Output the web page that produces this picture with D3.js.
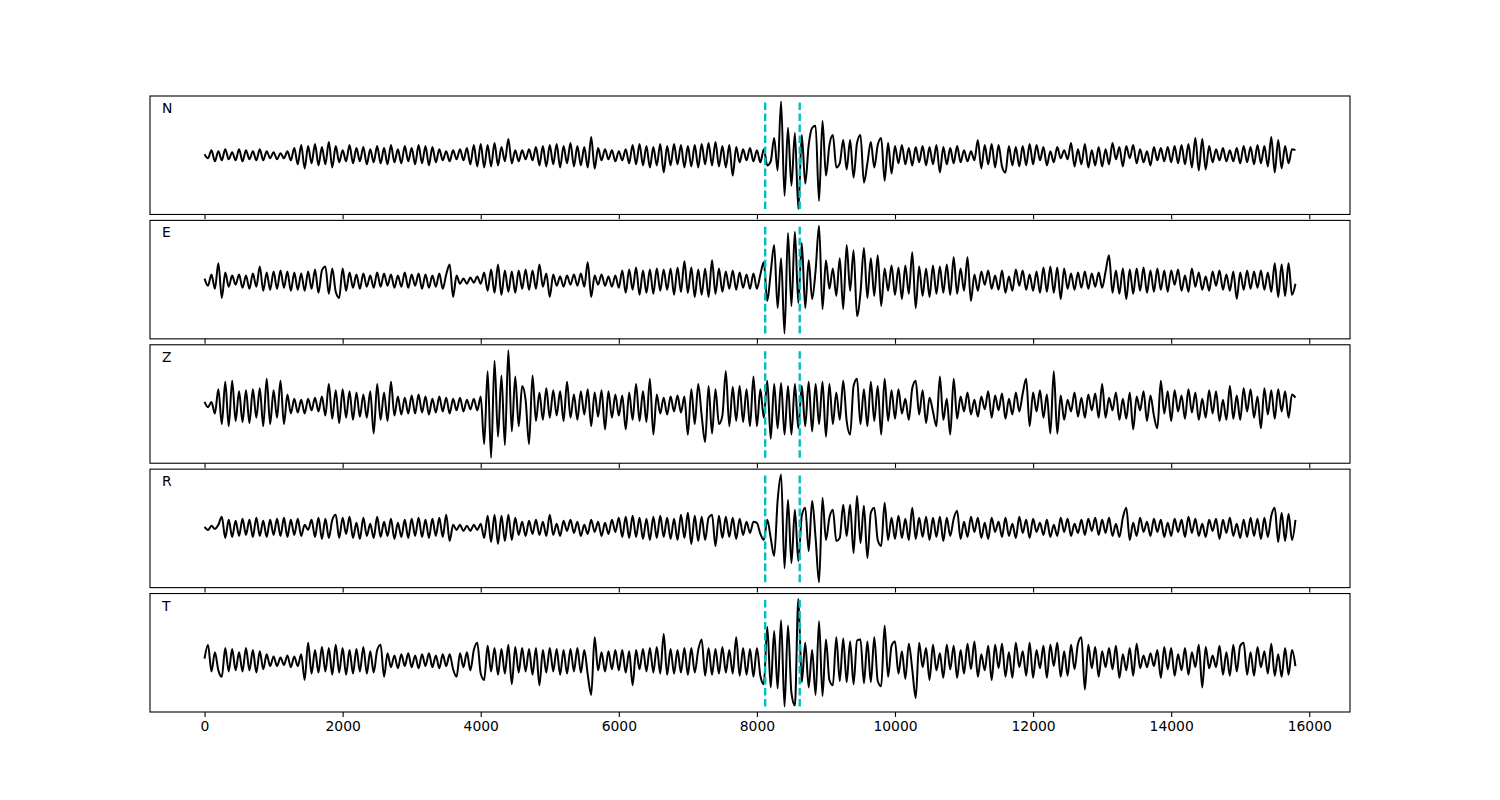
<!DOCTYPE html>
<html><head><meta charset="utf-8">
<script src="https://cdn.jsdelivr.net/npm/d3@7"></script>
<style>body{margin:0;background:#fff}svg{display:block}</style>
</head><body>
<svg id="chart" width="1500" height="800"></svg>
<script>
// ---------- data ----------
const sampleStep = 50; // samples between listed values
const componentNames = ["N", "E", "Z", "R", "T"];
const pickTimes = [8120, 8620];
const xTickValues = [0, 2000, 4000, 6000, 8000, 10000, 12000, 14000, 16000];

const traceN = [
1,-3,5,-6,4,-5,6,-4,3,-5,6,-6,5,-4,4,-5,6,-5,4,-3,
3,-4,2,-3,4,-5,7,-9,10,-13,9,-8,11,-10,8,-9,13,-12,9,-7,
5,-6,10,-8,7,-6,8,-9,6,-7,9,-8,7,-9,10,-7,6,-8,9,-6,
7,-9,10,-8,9,-10,8,-7,6,-5,4,-6,5,-4,6,-5,7,-9,10,-11,
11,-12,10,-11,12,-10,8,-6,16,-8,5,-6,5,-4,6,-5,8,-10,9,-11,
10,-9,11,-12,9,-8,12,-11,9,-10,8,-12,18,-13,7,-5,6,-4,5,-6,
4,-5,6,-8,10,-9,11,-10,9,-12,8,-10,11,-17,9,-10,11,-9,10,-12,
9,-11,10,-12,11,-9,12,-10,13,-11,9,-12,10,-20,8,-7,6,-5,7,-6,
5,-7,6,-10,-6,17,-15,53,-40,27,-30,22,-53,20,-28,10,27,29,-45,34,
-20,10,20,-12,-8,15,-14,15,-22,12,20,-27,-8,13,-12,10,17,-25,12,-18,
9,-8,10,-9,7,-10,8,-7,9,-10,8,-9,10,-17,8,-9,7,-8,9,-7,
5,-6,4,-5,15,-13,10,-9,11,-12,10,-11,-17,9,-10,8,-11,9,-10,11,
-9,10,-5,8,-10,4,-7,8,-3,5,-4,12,-11,6,-9,11,-12,5,-10,8,
-11,6,-9,12,-4,8,-11,9,-3,10,-8,6,-7,4,-10,8,-5,7,-6,8,
-7,9,-8,10,-9,11,-12,17,-15,16,-14,9,-7,6,-5,7,-6,5,-6,7,
-8,9,-7,8,-9,10,-8,9,-11,18,-17,15,-13,9,-8,6,5];

const traceE = [
2,-5,6,-8,17,-17,8,-6,5,-4,6,-7,5,-8,7,-6,14,-10,8,-9,
9,-8,10,-7,9,-10,8,-9,7,-10,9,-8,11,-12,10,14,-13,12,-11,-17,
12,-10,8,-7,6,-8,7,-6,5,-7,8,-6,7,-5,6,-7,5,-6,8,-7,
6,-5,7,-8,6,-7,5,-6,7,-8,6,16,-16,5,-3,2,-3,3,-2,4,
-3,8,-10,11,-12,16,-14,10,-11,9,-12,10,-8,11,-9,10,-8,16,-6,7,
-16,6,-5,4,-6,5,-4,6,-5,7,-6,18,-16,5,-4,6,-5,4,-6,5,
-7,10,-12,11,-9,13,-14,10,-12,11,-13,12,-10,11,-9,12,-14,13,-11,19,
-12,13,-16,11,-14,12,-16,20,-13,12,-11,9,-8,10,-9,8,-7,6,-8,7,
-8,6,18,-20,8,35,-27,22,-52,47,-25,48,-22,37,-27,20,-18,10,54,-28,
20,-8,12,-15,22,-28,35,-10,30,-35,-12,32,-17,22,-15,25,-25,12,-10,15,
-14,13,-18,15,-13,28,-27,14,-15,12,-16,15,-13,14,-12,16,-14,23,-13,12,
-10,23,-20,6,-10,9,-4,10,-8,5,-9,10,-12,4,-10,11,-5,10,-9,6,
-10,9,-12,13,-11,14,-12,13,-18,12,-8,7,-9,8,-7,9,-8,7,-6,8,
-7,9,25,-12,10,-13,12,-18,11,-13,12,-10,13,-12,10,-11,12,-9,10,-11,
10,-4,11,-10,5,-11,12,-6,8,-9,4,-10,9,-5,10,-9,6,-10,9,-18,
8,-9,10,-8,9,-7,10,-9,8,-11,17,-16,16,-15,17,-14,-3];

const traceZ = [
3,-2,3,-8,15,-18,22,-20,23,-15,13,-16,14,-17,15,-12,16,-20,25,-18,
14,-12,23,-18,10,-8,6,-7,5,-8,6,-5,7,-6,8,-10,20,-13,14,-17,
15,-12,13,-14,12,-11,10,-12,13,-27,20,-14,12,-15,22,-10,8,-9,7,-8,
9,-8,10,-7,8,-9,6,-7,8,-6,7,-8,6,-5,7,-6,5,-4,6,-5,
8,-37,32,-50,42,-30,28,-38,52,-25,27,-20,18,5,-37,28,-15,12,-14,16,
-12,14,-10,13,-15,22,-12,10,-14,13,-9,15,-20,12,-11,14,-23,13,-12,10,
-10,9,-23,12,-14,20,-15,13,-16,25,-28,10,-8,7,-9,8,-6,9,-7,8,
-28,15,-18,20,-10,-35,18,-27,15,-18,-10,32,-20,17,-15,18,-16,15,-20,27,
-20,15,-12,23,-32,20,-22,21,-28,18,-28,20,-22,18,-20,22,-25,20,-18,22,
-30,20,-18,12,-14,23,-15,-28,18,25,-18,15,-20,22,-15,18,-28,25,-15,14,
-13,15,-8,6,-14,16,23,-9,14,-17,7,-6,-20,27,-14,6,-28,25,-13,8,
-6,12,-9,5,-11,8,-4,13,-12,9,-5,11,-13,6,-9,12,-6,11,25,-20,
12,-6,14,-12,10,-27,32,-27,9,-14,5,-6,12,-11,7,-12,10,-5,11,-12,
20,-12,7,-5,12,-14,6,-13,12,-23,8,-5,13,-15,9,-10,-22,23,-8,13,
-15,14,-6,9,-13,15,-7,12,-14,6,-12,14,-8,13,-15,5,-14,18,-13,9,
-14,16,-6,15,-12,8,-22,16,-9,14,-13,15,-6,13,-12,10,7];

const traceR = [
1,-2,2,-1,3,11,-10,8,-9,7,-8,9,-7,8,-9,10,-8,7,-9,8,
-7,9,-8,10,-9,8,-7,9,-8,3,-2,8,-9,10,-11,9,-10,8,13,-10,
10,-6,11,-10,5,-11,10,-8,4,-10,11,-9,6,-8,9,-11,5,-9,8,-10,
9,-8,10,-9,8,-10,9,-8,10,-9,13,-13,3,-2,3,-3,2,-3,3,-2,
4,-10,12,-14,13,-16,12,-13,13,-12,10,-7,6,-8,7,-6,8,-7,6,-8,
13,-7,4,-8,7,-3,8,-5,6,-8,3,-6,8,-4,6,-8,5,-6,8,-4,
10,-9,11,-10,12,-9,10,-11,9,-12,11,-10,12,-9,10,-11,9,-12,13,-10,
15,-16,12,-13,11,-12,10,13,-18,12,-10,11,-9,10,-11,9,-7,6,-5,6,
5,-6,-12,8,-10,-28,27,53,-40,28,-35,18,-33,12,20,-23,27,-10,-54,30,
-12,10,18,-13,-10,23,-8,23,-25,32,-15,22,-30,15,20,-12,-18,25,-12,10,
-11,12,-10,9,-12,20,-11,10,-9,11,-12,10,-9,11,-13,10,-8,9,17,-11,
6,-9,11,-4,10,-10,5,-11,10,-4,6,-9,10,-8,4,-10,11,-5,8,-10,
9,-4,5,-7,8,-9,3,-8,10,-4,9,-8,4,-5,8,-7,9,-3,10,-7,
8,-5,10,-8,4,-9,10,20,-12,5,-8,10,-4,6,-8,9,-4,8,-9,5,
-8,9,-4,8,-9,11,-5,9,-8,4,-9,8,-3,9,-11,8,-5,10,-8,4,
-10,8,-9,10,-8,9,-11,10,-9,12,20,-14,15,-13,14,-12,8];

const traceT = [
2,15,-10,8,-9,-15,12,-10,11,-9,8,-10,12,-9,10,-11,9,-8,6,-5,
4,-5,3,-4,5,-6,4,-5,6,-18,17,-12,10,-11,13,-10,12,-13,15,-11,
12,-13,10,-12,11,-10,13,-12,9,-11,10,15,-15,7,-6,5,-7,6,-5,7,
-6,5,-7,6,-5,7,-6,5,-7,6,-5,6,-8,-15,7,-6,8,-9,10,17,
-12,-18,14,-10,12,-13,11,-12,15,-22,13,-11,12,-10,11,-13,12,-23,10,-11,
12,-10,11,-13,10,-12,11,-10,12,-11,10,-13,-32,22,-9,8,-10,9,-8,10,
-9,10,-11,9,-23,10,-8,11,-10,12,-11,13,-12,25,-13,11,-12,10,-11,12,
-13,12,-11,10,20,-14,12,-13,11,-12,13,-11,10,-12,22,-14,12,-13,11,-15,
12,-14,-22,32,-25,28,-26,38,-43,33,-30,-42,58,-20,17,-25,10,-32,37,-33,
20,-18,-23,22,-19,21,-20,18,-22,19,20,-21,18,-20,22,-19,-24,33,-15,14,
18,-12,9,-17,16,-8,-35,17,-6,12,-18,15,-9,7,-16,15,-8,14,-16,10,
-12,16,-8,18,-15,6,-9,14,-18,15,-7,16,-15,8,-16,17,-6,9,-14,17,
-16,10,-7,14,-16,15,-5,17,-15,9,-14,15,-8,16,22,-27,15,-7,13,-15,
9,-6,12,-8,14,-16,6,-9,12,-14,16,-7,5,-6,7,-5,10,-16,13,-8,
12,-14,6,-9,12,-13,8,-6,15,-25,13,-7,5,-6,14,-13,8,-14,15,-10,
14,17,-13,8,-14,13,-6,9,-12,16,-14,6,-15,12,-13,10,-5];

const traces = [traceN, traceE, traceZ, traceR, traceT];

// ---------- layout ----------
const svg = d3.select("#chart");
const plotLeft = 150, plotRight = 1350, plotTop = 96, plotBottom = 712, hspace = 0.05;
const nP = traces.length;
const ph = (plotBottom - plotTop) / (nP + (nP - 1) * hspace);
const gap = ph * hspace;
const font = "'DejaVu Sans', sans-serif";

const xMax = (traceN.length - 1) * sampleStep;
const xPad = xMax * 0.05;
const x = d3.scaleLinear().domain([-xPad, xMax + xPad]).range([plotLeft, plotRight]);

traces.forEach((tr, k) => {
  const y0 = plotTop + k * (ph + gap);
  const [mn, mx] = d3.extent(tr);
  const pad = (mx - mn) * 0.05;
  const y = d3.scaleLinear().domain([mn - pad, mx + pad]).range([y0 + ph, y0]);
  const g = svg.append("g");

  const clipId = "clip" + k;
  svg.append("clipPath").attr("id", clipId)
    .append("rect").attr("x", plotLeft).attr("y", y0).attr("width", plotRight - plotLeft).attr("height", ph);

  const line = d3.line()
    .x((d, i) => x(i * sampleStep))
    .y(d => y(d))
    .curve(d3.curveMonotoneX);

  g.append("path").datum(tr)
    .attr("clip-path", `url(#${clipId})`)
    .attr("d", line)
    .attr("fill", "none")
    .attr("stroke", "#000")
    .attr("stroke-width", 2)
    .attr("stroke-linejoin", "round");

  g.selectAll("line.pick").data(pickTimes).enter().append("line")
    .attr("class", "pick")
    .attr("x1", d => x(d)).attr("x2", d => x(d))
    .attr("y1", y(mn)).attr("y2", y(mx))
    .attr("stroke", "#00bfbf")
    .attr("stroke-width", 2.4)
    .attr("stroke-dasharray", "7.7,3.3");

  g.append("rect")
    .attr("x", plotLeft).attr("y", y0).attr("width", plotRight - plotLeft).attr("height", ph)
    .attr("fill", "none").attr("stroke", "#000").attr("stroke-width", 1.1);

  const axis = d3.axisBottom(x).tickValues(xTickValues).tickSize(4.9).tickPadding(4.5)
    .tickFormat(k === nP - 1 ? d3.format("d") : () => "");
  const ax = svg.append("g").attr("transform", `translate(0,${y0 + ph})`).call(axis);
  ax.select(".domain").remove();
  ax.selectAll(".tick line").attr("stroke", "#000").attr("stroke-width", 1.1);
  ax.selectAll(".tick text").attr("fill", "#000")
    .style("font-family", font).style("font-size", "13.9px");

  svg.append("text")
    .attr("x", plotLeft + 12).attr("y", y0 + 17)
    .style("font-family", font).style("font-size", "13.9px")
    .attr("fill", "#000")
    .text(componentNames[k]);
});
</script>
</body></html>
